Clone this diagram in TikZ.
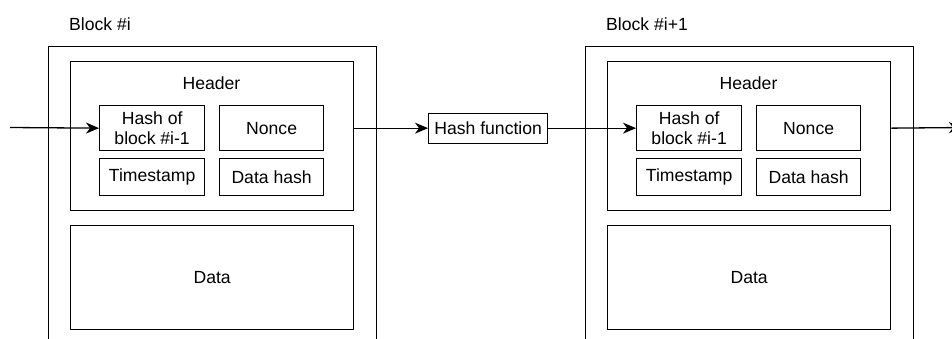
\documentclass[tikz,border=0pt]{standalone}
\usepackage{fontspec}
\setmainfont{Liberation Sans}
\usetikzlibrary{arrows.meta}
\begin{document}
\begin{tikzpicture}[x=1pt, y=-1pt,
  every node/.style={font=\fontsize{17.6}{20.5}\selectfont, inner sep=0pt},
  box/.style={draw, line width=1.3pt, anchor=north west, align=center},
  link/.style={line width=1.3pt, -{Stealth[length=13pt, width=11pt, inset=4pt]}},
  lbl/.style={anchor=west}]
  \useasboundingbox (0,0) rectangle (952,338);
  \clip (0,0) rectangle (952,338);

  % two chained blocks, the second shifted to the right
  \foreach \k/\dx/\name in {1/0/{Block \#i}, 2/537/{Block \#i+1}} {
    \begin{scope}[xshift=\dx pt]
      \node[lbl] (title\k) at (69,24) {\name};
      \node[box, minimum width=328pt, minimum height=400pt] (block\k) at (48,46) {};
      \node[box, minimum width=283pt, minimum height=149pt] (header\k) at (70,61) {};
      \node (htext\k) at (211.5,83) {Header};
      \node[box, minimum width=105pt, minimum height=45pt] (hash\k) at (99,105) {Hash of\\block \#i-1};
      \node[box, minimum width=104pt, minimum height=45pt] (nonce\k) at (219,105) {Nonce};
      \node[box, minimum width=105pt, minimum height=37pt] (ts\k) at (99,158) {Timestamp};
      \node[box, minimum width=104pt, minimum height=37pt] (dh\k) at (219,158) {Data hash};
      \node[box, minimum width=283pt, minimum height=104pt] (data\k) at (70,225) {Data};
    \end{scope}
  }

  \node[box, minimum width=119pt, minimum height=30pt] (hf) at (428,112.5) {Hash function};

  \coordinate (in) at (10,127.5);
  \coordinate (out) at (962,127.5);

  \draw[link] (in) -- (hash1.west);
  \draw[link] (hash1.east -| header1.east) -- (hf.west);
  \draw[link] (hf.east) -- (hash2.west);
  \draw[link] (hash2.east -| header2.east) -- (out);
\end{tikzpicture}
\end{document}
